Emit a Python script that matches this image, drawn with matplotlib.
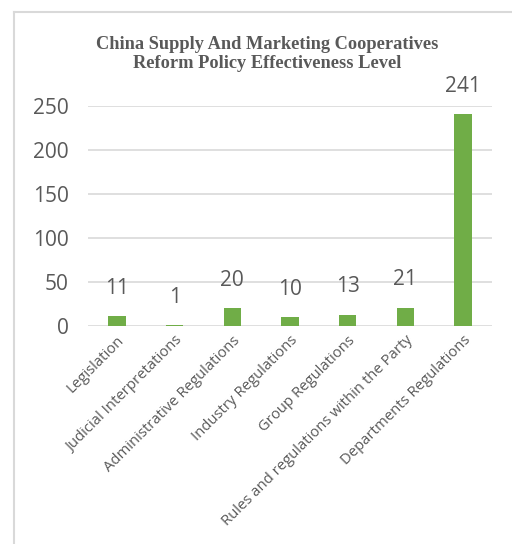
import numpy as np
import matplotlib
matplotlib.use("Agg")
import matplotlib.pyplot as plt

categories = ["Legislation", "Judicial Interpretations", "Administrative Regulations",
              "Industry Regulations", "Group Regulations",
              "Rules and regulations within the Party", "Departments Regulations"]
counts = [11, 1, 20, 10, 13, 21, 241]
y_ticks = [0, 50, 100, 150, 200, 250]

text_color = "#595959"
bar_color = "#70AD47"
grid_color = "#D9D9D9"

plt.rcParams['font.family'] = ['Open Sans', 'DejaVu Sans']

fig = plt.figure(figsize=(5.12, 5.44), dpi=100)
ax = fig.add_axes([88 / 512, 1 - 326 / 544, 404 / 512, 220 / 544])

x = np.arange(len(categories))
ax.bar(x, counts, width=0.3, color=bar_color, zorder=3)

ax.set_xlim(-0.5, len(categories) - 0.5)
ax.set_ylim(0, 250)
ax.set_yticks(y_ticks)
ax.set_yticklabels([str(v) for v in y_ticks], fontsize=15, color=text_color)
ax.yaxis.grid(True, color=grid_color, linewidth=1.2, zorder=0)
ax.tick_params(axis="y", length=0, pad=14)
ax.tick_params(axis="x", length=0, pad=5)
for s in ax.spines.values():
    s.set_visible(False)

ax.set_xticks(x)
ax.set_xticklabels(categories, rotation=45, ha="right", va="top",
                   rotation_mode="anchor", fontsize=10.7, color=text_color)

for xi, v in zip(x, counts):
    ax.annotate(str(v), (xi, v), xytext=(0, 20), textcoords="offset points",
                ha="center", va="center", fontsize=15, color=text_color)

fig.text(267 / 512, 1 - 54 / 544,
         "China Supply And Marketing Cooperatives\nReform Policy Effectiveness Level",
         ha="center", va="center", fontsize=13.2, fontweight="bold",
         family="Liberation Serif", color=text_color, linespacing=1.15)

# outer chart border (left and top edges visible)
fig.add_artist(plt.Line2D([14 / 512, 14 / 512], [0, 1 - 12 / 544],
                          color=grid_color, linewidth=1.5, transform=fig.transFigure))
fig.add_artist(plt.Line2D([14 / 512, 1], [1 - 12 / 544, 1 - 12 / 544],
                          color=grid_color, linewidth=1.5, transform=fig.transFigure))

fig.savefig("out.png", dpi=100)
